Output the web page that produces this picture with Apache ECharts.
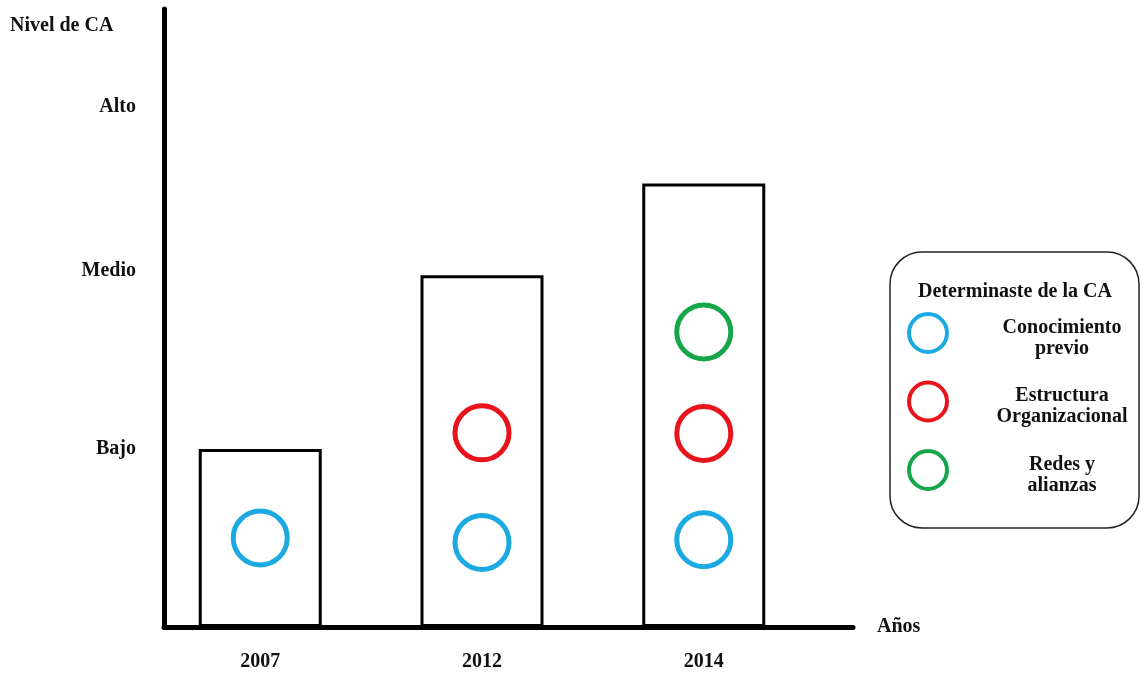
<!DOCTYPE html>
<html>
<head>
<meta charset="utf-8">
<script src="https://cdn.jsdelivr.net/npm/echarts@6/dist/echarts.min.js"></script>
<style>
html,body{margin:0;padding:0;background:#fff;}
#chart{width:1142px;height:675px;}
</style>
</head>
<body>
<div id="chart"></div>
<script>
// ---- data ----
var years = ['2007', '2012', '2014'];
var yearPos = [0, 1, 2];
var levelNames = ['Bajo', 'Medio', 'Alto'];
var levelValues = [1, 2, 2.92];
var barValues = [1.0, 1.975, 2.49];
var seriesNames = ['Conocimiento previo', 'Estructura Organizacional', 'Redes y alianzas'];
var seriesLabelLines = [['Conocimiento', 'previo'], ['Estructura', 'Organizacional'], ['Redes y', 'alianzas']];
var conocimientoPrevio = [[0, 0.50], [1, 0.475], [2, 0.49]];
var estructuraOrganizacional = [[1, 1.09], [2, 1.087]];
var redesAlianzas = [[2, 1.657]];
var seriesColors = ['#1BA9E1', '#E8141C', '#16A54A'];

var FONT = "'Liberation Serif','Times New Roman',serif";
var FS = 20;
var chart = echarts.init(document.getElementById('chart'), null, {renderer: 'canvas'});

function circleSeries(name, data, color) {
  return {
    name: name,
    type: 'scatter',
    data: data,
    symbol: 'circle',
    symbolSize: 54,
    z: 5,
    itemStyle: {color: '#fff', borderColor: color, borderWidth: 5, opacity: 1},
    emphasis: {disabled: true}
  };
}

var option = {
  backgroundColor: '#fff',
  animation: false,
  color: seriesColors,
  title: [
    {
      text: 'Nivel de CA',
      left: 10, top: 16, padding: 0,
      textStyle: {fontFamily: FONT, fontWeight: 'bold', fontSize: FS, color: '#111', lineHeight: 20}
    },
    {
      text: 'Determinaste de la CA',
      left: 890, top: 252,
      padding: [29, 27, 225, 28],
      borderColor: '#222', borderWidth: 1.5, borderRadius: 32,
      textStyle: {fontFamily: FONT, fontWeight: 'bold', fontSize: FS, color: '#111', lineHeight: 22}
    }
  ],
  legend: {
    orient: 'vertical',
    left: 907, top: 312,
    padding: 0,
    itemWidth: 38, itemHeight: 38, itemGap: 22,
    data: seriesNames,
    itemStyle: {borderWidth: 4},
    selectedMode: false,
    formatter: function (name) {
      var lines = seriesLabelLines[seriesNames.indexOf(name)];
      return lines.map(function (l) { return '{t|' + l + '}'; }).join('\n');
    },
    textStyle: {
      fontFamily: FONT, fontWeight: 'bold', fontSize: FS, color: '#111',
      padding: [10, 0, 0, 0],
      rich: {t: {width: 220, align: 'center', fontFamily: FONT, fontWeight: 'bold', fontSize: FS, lineHeight: 21, color: '#111'}}
    }
  },
  grid: {left: 164, top: 9, width: 689, height: 618, containLabel: false, outerBoundsMode: 'none'},
  xAxis: {
    type: 'value',
    min: -0.434, max: 2.673,
    name: 'Años',
    nameLocation: 'end',
    nameGap: 24,
    nameTextStyle: {fontFamily: FONT, fontWeight: 'bold', fontSize: FS, color: '#111', verticalAlign: 'middle', padding: [0, 0, 14, 0]},
    axisLine: {show: true, onZero: false, lineStyle: {color: '#000', width: 5}},
    axisTick: {show: false},
    splitLine: {show: false},
    axisLabel: {
      customValues: yearPos,
      margin: 25,
      fontFamily: FONT, fontWeight: 'bold', fontSize: FS, color: '#111',
      formatter: function (v) { return years[Math.round(v)]; }
    }
  },
  yAxis: {
    type: 'value',
    min: 0, max: 3.47,
    axisLine: {show: true, onZero: false, lineStyle: {color: '#000', width: 5}},
    axisTick: {show: false},
    splitLine: {show: false},
    axisLabel: {
      customValues: levelValues,
      margin: 28,
      fontFamily: FONT, fontWeight: 'bold', fontSize: FS, color: '#111',
      padding: [6, 0, 0, 0],
      formatter: function (v) {
        var best = 0, d = Infinity;
        for (var i = 0; i < levelValues.length; i++) {
          var dd = Math.abs(levelValues[i] - v);
          if (dd < d) { d = dd; best = i; }
        }
        return levelNames[best];
      }
    }
  },
  series: [
    {
      name: 'Nivel',
      type: 'bar',
      data: yearPos.map(function (x, i) { return [x, barValues[i]]; }),
      barWidth: 123,
      z: 2,
      itemStyle: {color: '#fff', borderColor: '#000', borderWidth: 3},
      emphasis: {disabled: true}
    },
    circleSeries(seriesNames[0], conocimientoPrevio, seriesColors[0]),
    circleSeries(seriesNames[1], estructuraOrganizacional, seriesColors[1]),
    circleSeries(seriesNames[2], redesAlianzas, seriesColors[2])
  ]
};
chart.setOption(option);
</script>
</body>
</html>
